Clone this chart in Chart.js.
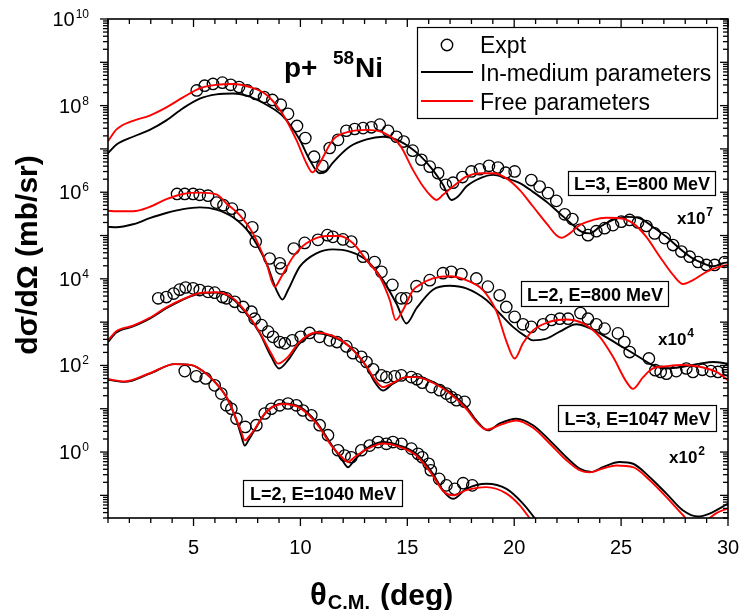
<!DOCTYPE html>
<html>
<head>
<meta charset="utf-8">
<script src="https://cdn.jsdelivr.net/npm/chart.js@4.4.1/dist/chart.umd.min.js"></script>
<style>
html,body{margin:0;padding:0;background:#fff;}
#wrap{width:741px;height:610px;position:relative;}
canvas{display:block;}
</style>
</head>
<body>
<div id="wrap"><canvas id="c" width="741" height="610" style="width:741px;height:610px"></canvas></div>
<script>
// ---------- DATA (values already multiplied by the shown factors) ----------
// Group 1: L=3, E=800 MeV (x10^7)
const g1ExptX = [5.15,5.52,5.91,6.35,6.74,7.13,7.52,7.91,8.30,8.69,9.08,9.42,9.84,10.23,10.64,11.03,11.37,11.76,12.15,12.54,12.93,13.32,13.71,14.10,14.49,14.83,15.25,15.66,16.05,16.44,16.80,17.14,17.58,18.0,18.39,18.82,19.24,19.6,20.02,20.80,21.19,21.58,21.97,22.36,22.72,23.06,23.45,23.84,24.23,24.62,25.01,25.40,25.79,26.18,26.57,27.04,27.43,27.82,28.21,28.60,28.99,29.38,29.84];
const g1ExptY = [2.24e8,2.88e8,3.16e8,3.39e8,3.02e8,2.69e8,2.24e8,1.86e8,1.58e8,1.35e8,1.05e8,6.46e7,3.39e7,1.78e7,6.61e6,4.07e6,1.05e7,1.62e7,2.63e7,2.88e7,3.02e7,3.16e7,3.63e7,2.63e7,1.91e7,1.48e7,9.12e6,5.62e6,3.89e6,2.75e6,1.48e6,1.66e6,2.24e6,3.02e6,3.39e6,4.07e6,3.72e6,2.82e6,3.02e6,1.91e6,1.35e6,9.55e5,6.31e5,3.09e5,2.40e5,1.35e5,1.02e5,1.26e5,1.48e5,1.74e5,2.09e5,2.29e5,2.00e5,1.66e5,1.12e5,8.71e4,6.03e4,4.27e4,3.24e4,2.45e4,2.09e4,2.09e4,2.45e4];
const g1MedX = [1,1.4,2.17,2.95,3.73,4.51,5.29,6.07,6.85,7.63,8.41,9.19,9.97,10.43,10.9,11.2,11.5,12.3,13.1,13.86,14.64,15.58,16.2,16.67,17.06,17.37,17.76,18.39,19.01,19.64,20.26,20.88,21.51,22.13,22.75,23.14,23.53,24.0,24.62,25.25,25.87,26.49,27.12,27.74,28.36,28.83,29.3,29.77,30];
const g1MedY = [7.94e6,1.26e7,1.91e7,2.75e7,4.57e7,8.71e7,1.45e8,1.82e8,1.91e8,1.62e8,1.05e8,5.62e7,1.62e7,5.62e6,2.75e6,3.02e6,4.68e6,1.12e7,1.66e7,1.91e7,1.51e7,7.08e6,3.24e6,1.48e6,6.61e5,7.94e5,1.35e6,2.09e6,2.51e6,2.09e6,1.62e6,1.02e6,6.03e5,3.24e5,1.74e5,1.23e5,1.12e5,1.58e5,2.29e5,2.69e5,2.51e5,1.58e5,9.33e4,5.01e4,2.95e4,2.29e4,1.95e4,2.29e4,2.40e4];
const g1FreeX = [1,1.4,2.17,2.95,3.73,4.51,5.29,6.07,6.85,7.63,8.41,9.19,9.81,10.28,10.56,10.9,11.52,12.3,13.09,13.86,14.64,15.27,15.74,16.13,16.36,16.67,17.14,17.76,18.39,19.01,19.64,20.26,20.88,21.51,21.97,22.21,22.6,23.06,23.69,24.31,24.93,25.56,26.18,26.81,27.43,27.9,28.36,28.99,29.61,30];
const g1FreeY = [1.51e7,2.82e7,4.47e7,5.89e7,9.12e7,1.55e8,2.51e8,3.02e8,3.16e8,2.69e8,1.78e8,6.17e7,1.62e7,4.68e6,2.88e6,4.68e6,1.62e7,2.51e7,2.75e7,2.40e7,1.26e7,3.24e6,1.35e6,7.94e5,6.61e5,8.71e5,1.35e6,2.29e6,2.75e6,2.75e6,2.09e6,1.12e6,4.68e5,1.91e5,1.02e5,8.91e4,1.12e5,1.74e5,2.29e5,2.57e5,2.51e5,1.91e5,9.33e4,3.24e4,1.23e4,7.59e3,9.33e3,1.45e4,1.91e4,2.09e4];

// Group 2: L=2, E=800 MeV (x10^4)
const g2ExptX = [4.23,4.59,4.98,5.29,5.68,6.07,6.40,6.80,7.16,7.75,7.91,8.56,9.03,9.10,9.69,10.20,10.82,11.26,11.52,11.99,12.38,12.93,13.47,13.79,14.30,14.72,14.95,15.43,16.05,16.67,17.06,17.53,18.23,18.77,19.32,19.63,20.02,20.41,20.80,21.35,21.74,22.13,22.52,23.10,23.45,23.84,24.23,24.85,25.15,25.40,26.30,26.60,26.85,27.12,27.58,28.05,28.36,28.80,29.20,29.53,30.0];
const g2ExptY = [9.12e5,9.12e5,9.12e5,8.71e5,8.32e5,5.75e5,5.01e5,4.17e5,2.95e5,1.55e5,7.24e4,2.95e4,2.29e4,1.74e4,5.01e4,6.76e4,7.94e4,1.02e5,9.33e4,8.13e4,7.24e4,3.24e4,2.45e4,1.45e4,7.24e3,3.55e3,3.55e3,6.76e3,9.33e3,1.35e4,1.45e4,1.29e4,1.02e4,6.61e3,4.17e3,2.24e3,1.32e3,891,776,891,1.12e3,1.20e3,1.20e3,1.62e3,1.20e3,891,708,550,347,204,145,77.6,70.8,64.6,74.1,85.1,70.8,79.4,74.1,70.8,77.6];
const g2MedX = [1,1.39,2.17,2.95,3.73,4.51,5.29,6.07,6.85,7.63,8.41,8.88,9.16,9.42,9.97,10.75,11.52,12.31,13.09,13.86,14.49,14.96,15.43,16.2,16.98,17.76,18.7,19.32,19.94,20.57,20.88,21.51,22.13,22.91,23.38,24.0,24.78,25.56,26.34,26.65,27.12,27.9,28.68,29.3,30];
const g2MedY = [1.58e5,1.55e5,1.82e5,2.51e5,3.31e5,4.07e5,4.47e5,3.98e5,2.63e5,1.12e5,2.29e4,5.50e3,3.31e3,5.50e3,1.91e4,3.89e4,4.79e4,4.27e4,2.69e4,9.33e3,2.69e3,933,2.09e3,5.62e3,6.92e3,6.03e3,3.24e3,1.58e3,776,457,380,417,603,891,776,550,324,191,110,93.3,85.1,93.3,110,120,110];
const g2FreeX = [1,1.4,2.17,2.95,3.73,4.51,5.29,6.07,6.54,7.16,7.78,8.41,8.80,9.11,9.66,10.28,11.22,11.84,12.46,13.09,13.71,14.18,14.46,14.80,15.27,15.58,16.2,16.98,17.76,18.54,19.17,19.64,20.02,20.41,20.88,21.66,22.44,23.22,24.0,24.62,25.25,25.56,26.03,26.49,27.12,27.9,28.68,29.46,30];
const g2FreeY = [3.72e5,3.63e5,3.63e5,4.57e5,6.92e5,9.12e5,9.77e5,8.91e5,5.50e5,2.95e5,1.12e5,2.29e4,6.61e3,1.12e4,3.24e4,6.61e4,9.77e4,9.77e4,6.61e4,2.69e4,1.12e4,3.24e3,1.12e3,1.91e3,5.50e3,7.24e3,1.02e4,1.15e4,9.33e3,5.50e3,1.78e3,355,145,324,646,1.02e3,1.15e3,933,457,158,41.7,28.8,53.7,85.1,95.5,102,93.3,70.8,45.7];

// Group 3: L=3, E=1047 MeV (x10^2)
const g3ExptX = [3.35,3.73,4.07,4.35,4.63,4.98,5.29,5.68,5.99,6.35,6.54,6.93,7.32,7.71,7.86,8.18,8.49,8.72,9.03,9.27,9.62,10.01,10.43,10.90,11.37,11.71,12.15,12.46,12.85,13.09,13.40,13.79,14.02,14.41,14.72,15.19,15.45,15.70,16.13,16.52,16.83,17.06,17.30,17.68];
const g3ExptY = [3.55e3,3.80e3,4.57e3,5.62e3,6.31e3,6.03e3,5.50e3,5.01e3,4.79e3,3.80e3,3.55e3,2.95e3,2.24e3,1.74e3,1.20e3,851,603,457,347,324,380,457,562,457,380,347,275,191,158,120,81.3,58.9,53.7,56.2,58.9,53.7,47.9,39.8,31.6,26.9,22.4,18.6,15.8,14.5];
const g3MedX = [1,1.39,2.17,2.95,3.73,4.51,5.29,6.07,6.85,7.47,8.10,8.64,9.00,9.42,9.97,10.75,11.52,12.31,13.09,13.5,13.86,14.33,14.96,15.42,16.20,16.98,17.76,18.23,18.77,19.32,20.10,20.88,21.66,22.44,23.06,23.61,24.15,24.93,25.56,26.34,27.12,27.90,28.6,29.14,30];
const g3MedY = [347,575,794,1.20e3,2.09e3,3.31e3,4.57e3,4.79e3,3.39e3,1.58e3,550,158,85.1,132,324,550,457,269,93.3,39.8,26.3,38.0,53.7,55.0,41.7,24.5,11.0,5.37,3.16,4.57,5.89,4.17,1.86,0.759,0.417,0.347,0.447,0.589,0.537,0.263,0.110,0.0447,0.0324,0.0380,0.0646];
const g3FreeX = [1,1.39,2.17,2.95,3.73,4.51,5.29,6.07,6.85,7.47,8.10,8.64,8.95,9.42,9.97,10.75,11.52,12.31,13.09,13.5,13.86,14.33,14.96,15.42,16.20,16.98,17.76,18.23,18.70,19.32,20.10,20.88,21.66,22.44,23.06,23.53,24.15,24.78,25.56,26.34,27.12,27.90,28.5,29.06,29.5,30];
const g3FreeY = [380,617,832,1.26e3,2.19e3,3.39e3,4.68e3,4.90e3,3.55e3,1.66e3,575,186,110,158,355,575,479,269,95.5,45.7,31.6,39.8,53.7,53.7,39.8,22.9,10.0,5.01,3.31,4.17,5.37,3.63,1.58,0.646,0.380,0.339,0.417,0.490,0.447,0.224,0.0912,0.0347,0.0178,0.0282,0.0398,0.0501];

// Group 4: L=2, E=1040 MeV (x1)
const g4ExptX = [4.59,5.13,5.57,5.99,6.30,6.54,6.77,7.01,7.42,7.94,8.33,8.64,9.03,9.42,9.81,10.12,10.51,10.90,11.29,11.76,12.07,12.38,12.85,13.24,13.63,14.02,14.33,14.73,15.19,15.50,15.70,16.00,16.10,16.49,16.83,17.22,17.61,18.04];
const g4ExptY = [74.1,56.2,50.1,34.7,22.4,12.0,10.0,5.89,3.80,4.17,7.76,10.0,12.0,13.2,12.0,9.12,7.08,4.17,2.45,1.10,0.832,0.759,1.10,1.41,1.70,1.55,1.70,1.55,1.20,0.912,0.759,0.537,0.380,0.240,0.170,0.141,0.191,0.170];
const g4MedX = [1,1.78,2.95,4.12,4.90,5.60,6.07,6.54,7.01,7.22,7.40,7.58,7.79,8.41,9.19,9.97,10.75,11.52,11.95,12.23,12.5,13.09,13.86,14.64,15.42,16.20,16.67,17.14,17.76,18.70,19.64,20.41,21.04,21.5];
const g4MedY = [46.8,41.7,64.6,107,102,64.6,38.0,18.6,5.37,2.51,1.41,1.91,2.82,8.51,13.2,11.0,4.90,1.32,0.661,0.447,0.631,1.20,1.70,1.41,0.912,0.316,0.129,0.0832,0.141,0.186,0.141,0.0646,0.0263,0.0126];
const g4FreeX = [1,1.78,2.95,4.12,4.90,5.60,6.07,6.54,7.01,7.22,7.40,7.58,7.79,8.41,9.19,9.97,10.75,11.52,11.95,12.23,12.5,13.09,13.86,14.64,15.42,16.20,16.67,17.14,17.76,18.70,19.64,20.26,20.80,21.3];
const g4FreeY = [47.9,42.7,66.1,107,102,64.6,38.0,18.6,5.62,3.02,1.86,2.24,3.02,8.51,12.9,10.5,4.57,1.26,0.759,0.589,0.741,1.15,1.58,1.32,0.832,0.282,0.126,0.100,0.132,0.155,0.110,0.0589,0.0263,0.0126];

// ---------- TEXT / TICKS ----------
const xTickLabels = [5,10,15,20,25,30];
const yTickExponents = [0,2,4,6,8,10];
const legendLabels = ['Expt','In-medium parameters','Free parameters'];
const boxLabels = ['L=3, E=800 MeV','L=2, E=800 MeV','L=3, E=1047 MeV','L=2, E=1040 MeV'];
const factorExponents = ['7','4','2'];
const titleParts = ['p+ ','58','Ni'];

const FONT = "'Liberation Sans', Arial, sans-serif";

function pts(xs, ys){ return xs.map((x,i)=>({x:x, y:ys[i]})); }
function expt(xs, ys){ return {data:pts(xs,ys), showLine:false, pointRadius:5.7, pointHoverRadius:5.7, pointBorderWidth:1.3, pointBorderColor:'#000', pointBackgroundColor:'rgba(0,0,0,0)', order:3}; }
function curve(xs, ys, col, ord){ return {data:pts(xs,ys), showLine:true, pointRadius:0, borderColor:col, borderWidth:1.9, cubicInterpolationMode:'monotone', fill:false, order:ord, clip:0}; }

const datasets = [
  expt(g1ExptX,g1ExptY), curve(g1MedX,g1MedY,'#000',2), curve(g1FreeX,g1FreeY,'#ff0000',1),
  expt(g2ExptX,g2ExptY), curve(g2MedX,g2MedY,'#000',2), curve(g2FreeX,g2FreeY,'#ff0000',1),
  expt(g3ExptX,g3ExptY), curve(g3MedX,g3MedY,'#000',2), curve(g3FreeX,g3FreeY,'#ff0000',1),
  expt(g4ExptX,g4ExptY), curve(g4MedX,g4MedY,'#000',2), curve(g4FreeX,g4FreeY,'#ff0000',1)
];

function seg(ctx,x1,y1,x2,y2){ ctx.beginPath(); ctx.moveTo(x1,y1); ctx.lineTo(x2,y2); ctx.stroke(); }

const overlay = {
  id:'overlay',
  afterDraw(chart){
    const ctx = chart.ctx, xs = chart.scales.x, ys = chart.scales.y, a = chart.chartArea;
    ctx.save();
    ctx.strokeStyle = '#000'; ctx.fillStyle = '#000';
    // ticks
    ctx.lineWidth = 1.3;
    for (let t = Math.ceil(xs.min); t <= xs.max; t++){
      const px = xs.getPixelForValue(t); const L = (t % 5 === 0) ? 8 : 5;
      seg(ctx, px, a.bottom, px, a.bottom + L);
      seg(ctx, px, a.top, px, a.top + L);
    }
    for (let p = -2; p <= 10; p++){
      for (let m = 1; m <= 9; m++){
        const v = m * Math.pow(10, p);
        if (v < ys.min * 0.999 || v > ys.max * 1.001) continue;
        const py = ys.getPixelForValue(v); const L = (m === 1) ? 8 : 5;
        seg(ctx, a.left - L, py, a.left, py);
        seg(ctx, a.right - L, py, a.right, py);
      }
    }
    // frame
    ctx.lineWidth = 1.6;
    ctx.strokeRect(a.left, a.top, a.right - a.left, a.bottom - a.top);

    // x tick labels
    ctx.font = '20px ' + FONT; ctx.textAlign = 'center'; ctx.textBaseline = 'alphabetic';
    xTickLabels.forEach(v => ctx.fillText(String(v), xs.getPixelForValue(v), 554));
    // y tick labels 10^n
    yTickExponents.forEach(e => {
      const py = ys.getPixelForValue(Math.pow(10, e));
      ctx.font = '12px ' + FONT; const we = ctx.measureText(String(e)).width;
      ctx.font = '20px ' + FONT; const wb = ctx.measureText('10').width;
      const right = 89;
      ctx.textAlign = 'left';
      ctx.fillText('10', right - we - wb - 1, py + 7);
      ctx.font = '12px ' + FONT; ctx.fillText(String(e), right - we, py - 1);
    });

    // y axis title
    ctx.save();
    ctx.translate(37, 255); ctx.rotate(-Math.PI/2);
    ctx.font = 'bold 30px ' + FONT; ctx.textAlign = 'center';
    ctx.fillText('d\u03c3/d\u03a9 (mb/sr)', 0, 0);
    ctx.restore();

    // x axis title
    ctx.textAlign = 'left';
    ctx.font = 'bold 31px ' + FONT; ctx.fillText('\u03b8', 310, 605);
    const wt = ctx.measureText('\u03b8').width;
    ctx.font = 'bold 20px ' + FONT; ctx.fillText('C.M.', 310 + wt + 1, 609);
    ctx.font = 'bold 30px ' + FONT; ctx.fillText('(deg)', 380, 605);

    // title p+ 58Ni
    ctx.font = 'bold 28px ' + FONT; ctx.fillText(titleParts[0], 284, 77);
    ctx.font = 'bold 19px ' + FONT; ctx.fillText(titleParts[1], 333, 64);
    ctx.font = 'bold 28px ' + FONT; ctx.fillText(titleParts[2], 355, 77);

    // legend
    ctx.fillStyle = '#fff'; ctx.fillRect(417, 27, 300, 91);
    ctx.lineWidth = 1.2; ctx.strokeStyle = '#000'; ctx.strokeRect(417.5, 27.5, 300, 91);
    ctx.lineWidth = 1.4; ctx.beginPath(); ctx.arc(447, 45, 5.7, 0, Math.PI*2); ctx.stroke();
    ctx.lineWidth = 1.9; ctx.strokeStyle = '#000'; seg(ctx, 421, 72, 473, 72);
    ctx.strokeStyle = '#ff0000'; seg(ctx, 421, 101, 473, 101);
    ctx.fillStyle = '#000'; ctx.font = '23px ' + FONT; ctx.textAlign = 'left';
    ctx.fillText(legendLabels[0], 480, 53);
    ctx.fillText(legendLabels[1], 480, 81);
    ctx.fillText(legendLabels[2], 480, 110);

    // boxed labels
    const boxes = [[568,171,147,24],[521,281,147,25],[558,405,158,26],[243,480,159,26]];
    boxes.forEach((b,i) => {
      ctx.fillStyle = '#fff'; ctx.fillRect(b[0], b[1], b[2], b[3]);
      ctx.strokeStyle = '#000'; ctx.lineWidth = 1.2; ctx.strokeRect(b[0]+0.5, b[1]+0.5, b[2], b[3]);
      ctx.fillStyle = '#000'; ctx.font = 'bold 18px ' + FONT; ctx.textAlign = 'center';
      ctx.fillText(boxLabels[i], b[0] + b[2]/2 + 0.5, b[1] + b[3]/2 + 7);
    });

    // factors
    const fac = [[677,224],[658,345],[669,463]];
    ctx.textAlign = 'left';
    fac.forEach((f,i) => {
      ctx.font = 'bold 17px ' + FONT; ctx.fillText('x10', f[0], f[1]);
      const w = ctx.measureText('x10').width;
      ctx.font = 'bold 12px ' + FONT; ctx.fillText(factorExponents[i], f[0] + w + 1, f[1] - 8);
    });
    ctx.restore();
  }
};

new Chart(document.getElementById('c'), {
  type:'scatter',
  data:{datasets:datasets},
  options:{
    responsive:false, animation:false, devicePixelRatio:1,
    layout:{padding:{left:0, right:13, top:19, bottom:0}},
    plugins:{legend:{display:false}, tooltip:{enabled:false}},
    scales:{
      x:{type:'linear', min:1, max:30, grid:{display:false}, border:{display:false}, ticks:{display:false},
         afterFit:(s)=>{ s.height = 92; }},
      y:{type:'logarithmic', min:0.03, max:1e10, grid:{display:false}, border:{display:false}, ticks:{display:false},
         afterFit:(s)=>{ s.width = 108; }}
    }
  },
  plugins:[overlay]
});
</script>
</body>
</html>
